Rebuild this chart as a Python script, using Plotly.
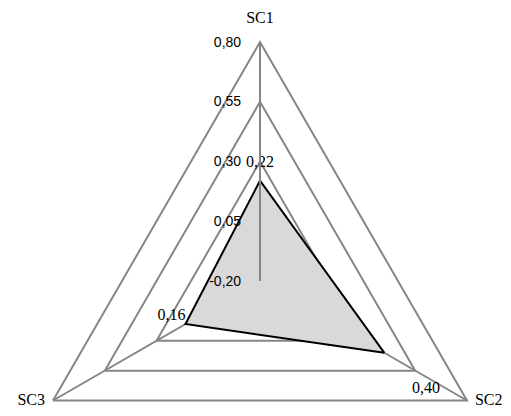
import plotly.graph_objects as go

# Radar values
categories = ['SC1', 'SC2', 'SC3']
values = [0.22, 0.40, 0.16]
labels = ['0,22', '0,40', '0,16']
label_pos = ['top center', 'bottom right', 'top left']
cat_pos = ['top center', 'middle right', 'middle left']
r_ticks = [-0.20, 0.05, 0.30, 0.55, 0.80]
r_ticktext = ['-0,20', '0,05', '0,30', '0,55', '0,80']
r_range = [-0.20, 0.80]

GRID = '#868686'
NO_COLOR = 'rgba(0,0,0,0)'

# invisible markers are only used to push the text labels away from the points
# (plotly offsets point text by the marker radius)
label_push = [14, 43, 0]
cat_push = [22, 0, 0]

fig = go.Figure()
fig.add_trace(go.Scatterpolar(
    r=values + values[:1],
    theta=categories + categories[:1],
    mode='lines+markers+text',
    fill='toself',
    fillcolor='#d9d9d9',
    line=dict(color='#000000', width=2),
    marker=dict(size=label_push + [0], color=NO_COLOR,
                line=dict(width=0, color=NO_COLOR)),
    text=labels + [''],
    textposition=label_pos + ['top center'],
    textfont=dict(family='Liberation Serif', size=16, color='#000000'),
    showlegend=False,
    hoverinfo='skip',
))

# category names sit at the outer ring, like Excel does it
fig.add_trace(go.Scatterpolar(
    r=[r_range[1]] * len(categories),
    theta=categories,
    mode='markers+text',
    marker=dict(size=cat_push, color=NO_COLOR,
                line=dict(width=0, color=NO_COLOR)),
    text=['  %s  ' % c for c in categories],
    textposition=cat_pos,
    textfont=dict(family='Liberation Serif', size=16, color='#000000'),
    cliponaxis=False,
    showlegend=False,
    hoverinfo='skip',
))

# page body has an 8px margin, so the margins below are shifted for it
fig.update_layout(
    width=511,
    height=516,
    margin=dict(l=13, r=20, t=30, b=0),
    paper_bgcolor='white',
    separators=', ',
    polar=dict(
        bgcolor='white',
        gridshape='linear',
        domain=dict(x=[0, 1], y=[0, 1]),
        angularaxis=dict(
            rotation=90,
            direction='clockwise',
            showline=True,
            linecolor=GRID,
            linewidth=2,
            gridcolor=GRID,
            gridwidth=2,
            ticks='',
            showticklabels=False,
        ),
        radialaxis=dict(
            range=r_range,
            tickvals=r_ticks,
            ticktext=r_ticktext,
            angle=90,
            tickangle=90,
            side='counterclockwise',
            showline=True,
            linecolor=GRID,
            linewidth=2,
            gridcolor=GRID,
            gridwidth=2,
            ticks='outside',
            ticklen=13,
            tickcolor=NO_COLOR,
            tickfont=dict(family='Liberation Sans', size=14, color='#000000'),
        ),
    ),
)

fig.write_html("out.html")
